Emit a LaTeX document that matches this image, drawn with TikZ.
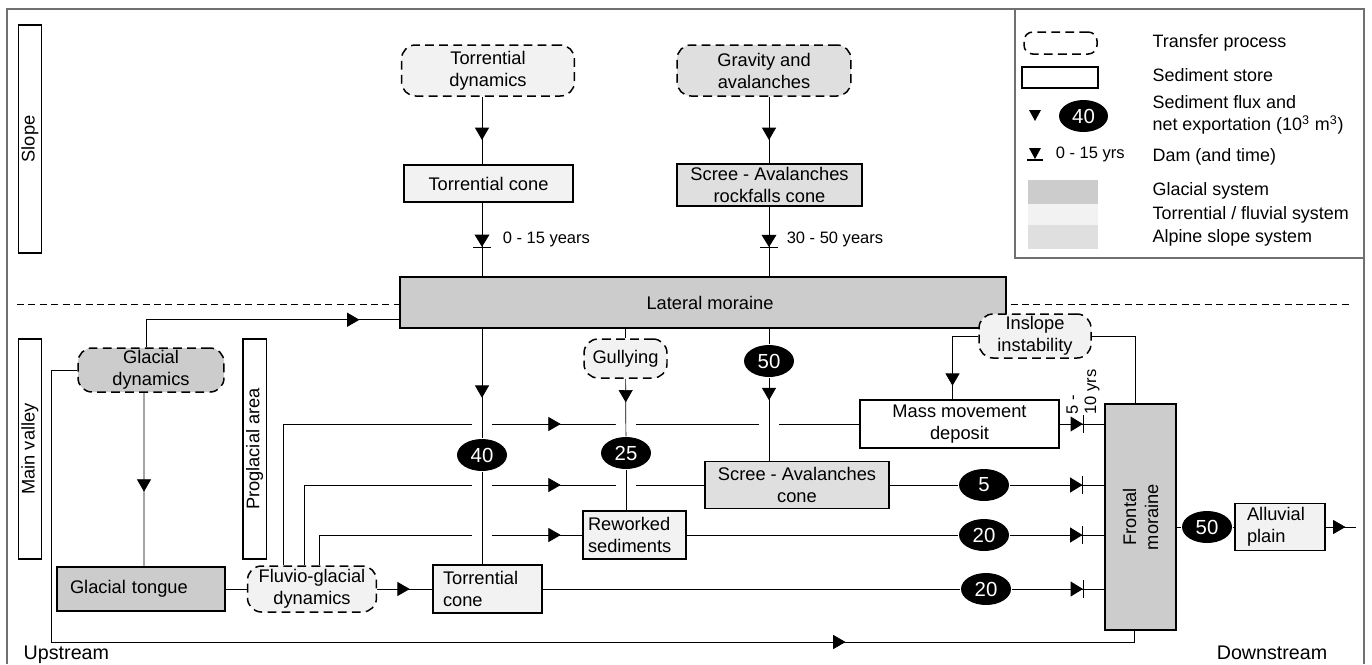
\documentclass[tikz,border=0pt]{standalone}
\usepackage{fontspec}
\setmainfont{Liberation Sans}
\usetikzlibrary{arrows.meta,decorations.markings,shapes.geometric}
\definecolor{glacial}{HTML}{CCCCCC}
\definecolor{torrent}{HTML}{F2F2F2}
\definecolor{alpine}{HTML}{DFDFDF}
\definecolor{framegray}{HTML}{707070}
\pgfdeclarelayer{background}
\pgfsetlayers{background,main}
\tikzset{
  transfer/.style={draw,dash pattern=on 5pt off 3pt,rounded corners=8pt,align=center,inner sep=1pt},
  store/.style={draw,rectangle,align=center,inner sep=1pt},
  flux/.style={ellipse,fill=black,text=white,minimum width=1cm,minimum height=0.64cm,inner sep=0pt,font=\fontsize{11.6}{13}\selectfont},
  sidelbl/.style={draw,rectangle,rotate=90,minimum height=0.47cm,inner sep=0pt},
  flow/.style={postaction={decorate,decoration={markings,mark=at position #1 with {\arrow{Triangle[length=7pt,width=8pt]}}}}},
  dam/.style={postaction={decorate,decoration={markings,mark=at position #1 with {\fill (-7pt,-4.3pt) -- (0pt,0pt) -- (-7pt,4.3pt) -- cycle; \draw (0pt,-5pt) -- (0pt,5pt);}}}},
  bridge/.style={preaction={draw=white,line width=0.4cm}},
  damlbl/.style={anchor=west,inner sep=0pt,font=\fontsize{9.4}{10.5}\selectfont},
  legtxt/.style={anchor=west,align=left,font=\fontsize{10.2}{12.5}\selectfont},
  endlbl/.style={font=\fontsize{11.2}{13}\selectfont}
}
\begin{document}
\begin{tikzpicture}[x=0.02cm,y=-0.02cm,line width=0.85pt,font=\fontsize{10.4}{12.5}\selectfont]
    \useasboundingbox (0,0) rectangle (1372,664);
    \node[sidelbl,minimum width=4.56cm] (slopeLbl) at (30,139) {Slope};
    \node[transfer,fill=torrent,minimum width=3.46cm,minimum height=1.02cm] (torDyn) at (488,70.5) {Torrential\\dynamics};
    \node[transfer,fill=alpine,minimum width=3.48cm,minimum height=1.02cm] (gravAv) at (764,70.5) {Gravity and\\avalanches};
    \node[store,fill=torrent,minimum width=3.38cm,minimum height=0.74cm] (torConeT) at (488.5,183.5) {Torrential cone};
    \node[store,fill=alpine,minimum width=3.7cm,minimum height=0.84cm] (screeT) at (769.5,185) {Scree - Avalanches\\rockfalls cone};
    \node[store,fill=glacial,minimum width=12.12cm,minimum height=1.02cm] (latMor) at (703,302.5) {\hspace*{0.28cm}Lateral moraine};
    \node[damlbl] (damLblA) at (502,239) {0 - 15 years};
    \node[damlbl] (damLblB) at (786,239) {30 - 50 years};

    \node[sidelbl,minimum width=4.4cm] (mainLbl) at (30,449) {Main valley};
    \node[sidelbl,minimum width=4.4cm] (proLbl) at (254.7,449) {Proglacial area};
    \node[transfer,fill=glacial,minimum width=2.92cm,minimum height=0.88cm] (glacDyn) at (151,370) {Glacial\\dynamics};
    \node[store,fill=glacial,minimum height=0.88cm,text width=2.84cm,inner xsep=0.26cm,align=left] (glacTongue) at (141,589) {Glacial tongue};
    \node[transfer,fill=torrent,minimum width=2.58cm,minimum height=0.92cm] (fluvDyn) at (312,589) {Fluvio-glacial\\dynamics};
    \node[store,fill=torrent,minimum height=0.96cm,text width=1.78cm,inner xsep=0.2cm,align=left] (torConeB) at (487.5,589) {Torrential\\cone};
    \node[transfer,fill=torrent,minimum width=1.66cm,minimum height=0.78cm] (gully) at (625.5,358.5) {Gullying};
    \node[store,fill=torrent,minimum height=0.96cm,text width=1.86cm,inner xsep=0.1cm,align=left] (rework) at (634.5,535) {Reworked\\sediments};
    \node[store,fill=alpine,minimum width=3.68cm,minimum height=0.94cm] (screeB) at (797,485) {Scree - Avalanches\\cone};
    \node[store,fill=white,minimum width=3.98cm,minimum height=0.96cm] (massDep) at (959.5,424) {Mass movement\\deposit};
    \node[transfer,fill=torrent,minimum width=2.24cm,minimum height=0.88cm] (inslope) at (1035,336) {Inslope\\instability};
    \node[store,fill=glacial,minimum width=1.42cm,minimum height=4.52cm] (frontMor) at (1140.5,517) {};
    \node[rotate=90,align=center] (frontTxt) at (frontMor) {Frontal\\moraine};
    \node[store,fill=torrent,minimum height=0.94cm,text width=1.32cm,inner xsep=0.24cm,align=left] (alluv) at (1280,527) {Alluvial\\plain};
    \node[damlbl,rotate=90,align=left,anchor=center] (damLblC) at (1083,392) {5 -\\10 yrs};

    \node[flux] (f40) at (482,455) {40};
    \node[flux] (f25) at (626,453) {25};
    \node[flux] (f50) at (769,361) {50};
    \node[flux] (f5) at (984,485) {5};
    \node[flux] (f20a) at (984,535) {20};
    \node[flux] (f20b) at (986,589) {20};
    \node[flux] (f50b) at (1207,527) {50};
    \coordinate (loopCorner) at (51,642);
    \coordinate (outlet) at (1356,527);
    \node[endlbl,anchor=west,inner sep=0pt] (upLbl) at (23,655) {Upstream};
    \node[endlbl] (downLbl) at (1272,653) {Downstream};

    \node[transfer,fill=white,rounded corners=5pt,minimum width=1.46cm,minimum height=0.44cm] (legTransfer) at (1060.5,43) {};
    \node[legtxt] (legTransferTxt) at (1146,43) {Transfer process};
    \node[store,fill=white,minimum width=1.52cm,minimum height=0.42cm] (legStore) at (1060,77.5) {};
    \node[legtxt] (legStoreTxt) at (1146,75) {Sediment store};
    \fill (1029,110) -- (1041,110) -- (1035,121) -- cycle;
    \node[flux,minimum width=0.98cm] (legFlux) at (1083.5,116) {40};
    \node[legtxt,font=\fontsize{10.2}{8}\selectfont] (legFluxTxt) at (1146,115) {Sediment flux and\\[3pt]net exportation (10\textsuperscript{3} m\textsuperscript{3})};
    \fill (1029,148) -- (1041,148) -- (1035,159) -- cycle;
    \draw (1027,160) -- (1043,160);
    \node[damlbl] (legDamLbl) at (1055,154) {0 - 15 yrs};
    \node[legtxt] (legDamTxt) at (1146,157) {Dam (and time)};
    \fill[glacial] (1028,180) rectangle (1098,204);
    \fill[torrent] (1028,204) rectangle (1098,225);
    \fill[alpine] (1028,225) rectangle (1098,249);
    \node[legtxt] (legGlac) at (1146,191) {Glacial system};
    \node[legtxt] (legTorr) at (1146,215) {Torrential / fluvial system};
    \node[legtxt] (legAlp) at (1146,238) {Alpine slope system};

    \begin{pgfonlayer}{background}
        \draw[framegray,line width=0.6pt] (7,664) -- (7,9) -- (1364,9) -- (1364,664);
        \draw[framegray,line width=0.6pt] (1015,9) -- (1015,258) -- (1364,258);
        \draw[dash pattern=on 4pt off 2.5pt] (17,304) -- (1353,304);

        \draw[flow=0.64] (torDyn.south -| f40) -- (torConeT.north -| f40);
        \draw[dam=0.6] (torConeT.south -| f40) -- (latMor.north -| f40);
        \draw[flow=0.65] (gravAv.south -| f50) -- (screeT.north -| f50);
        \draw[dam=0.58] (screeT.south -| f50) -- (latMor.north -| f50);

        \draw[flow=8.38cm] ([xshift=-0.58cm]fluvDyn.north) |- (massDep.west);
        \draw[flow=6.73cm] ([xshift=-0.15cm]fluvDyn.north) |- (screeB.west);
        \draw[flow=5.43cm] ([xshift=0.15cm]fluvDyn.north) |- (rework.west);
        \draw (glacTongue) -- (fluvDyn);
        \draw[flow=0.59] (fluvDyn) -- (torConeB);
        \draw (torConeB) -- (f20b);
        \draw[dam=0.77] (f20b) -- (frontMor.west |- f20b);
        \draw[dam=0.52] (massDep) -- (frontMor.west |- massDep);
        \draw (screeB) -- (f5);
        \draw[dam=0.77] (f5) -- (frontMor.west |- f5);
        \draw (rework) -- (f20a);
        \draw[dam=0.77] (f20a) -- (frontMor.west |- f20a);
        \draw (frontMor.east |- f50b) -- (f50b);
        \draw (f50b) -- (alluv);
        \draw[flow=0.65] (alluv) -- (outlet);

        \draw[bridge,flow=0.63] (latMor.south -| f40) -- (f40);
        \draw[bridge] (f40) -- (torConeB.north -| f40);
        \draw (latMor.south -| gully) -- (gully);
        \draw[bridge,flow=0.41] (gully) -- (f25);
        \draw[bridge] (f25) -- (rework.north -| f25);
        \draw (latMor.south -| f50) -- (f50);
        \draw[bridge,flow=0.27] (f50) -- (screeB.north -| f50);

        \draw[flow=4.82cm] ([xshift=-0.1cm]glacDyn.north) |- ([yshift=0.18cm]latMor.south west);
        \draw[flow=0.57] ([xshift=-0.14cm]glacDyn.south) -- ([xshift=0.06cm]glacTongue.north);
        \draw[flow=21.86cm] (glacDyn.west) -| (loopCorner) -| ([xshift=-0.12cm]frontMor.south);
        \draw[flow=1.51cm] (inslope.west) -| ([xshift=-0.14cm]massDep.north);
        \draw (inslope.east) -| ([xshift=-0.1cm]frontMor.north);
    \end{pgfonlayer}
\end{tikzpicture}
\end{document}
